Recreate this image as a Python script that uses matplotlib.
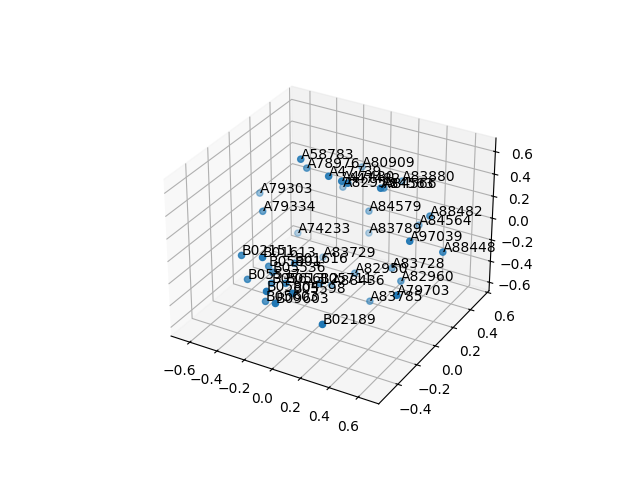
import matplotlib
matplotlib.use("Agg")
import matplotlib.pyplot as plt

labels = ["A58783", "A78976", "A47739", "A47480", "A82953", "A47482", "A80909",
          "A83880", "A84563", "A84566", "A79303", "A79334", "A84579", "A88482",
          "A84564", "A74233", "A83789", "A97039", "A88448", "B02151", "B01613",
          "A83729", "B05801", "B01616", "B05536", "B05537", "B05804", "B05598",
          "B05711", "A88436", "A82950", "B05603", "B09603", "B02189", "A83785",
          "A83728", "A82960", "A79703", "B05613", "B05612"]

xs = [-0.184, -0.255, 0.027, 0.105, -0.161, 0.141, -0.102, 0.205, 0.323, 0.203,
      -0.606, -0.428, 0.037, 0.508, 0.343, -0.418, -0.02, 0.576, 0.697, -0.361,
      -0.16, -0.221, -0.251, -0.119, -0.218, -0.337, -0.075, 0.064, 0.056, -0.004,
      0.096, -0.196, -0.006, 0.277, 0.238, 0.288, 0.412, 0.608, -0.161, -0.066]
ys = [-0.049, 0.107, -0.069, -0.05, 0.345, -0.041, 0.462, 0.437, 0.027, 0.243,
      0.108, -0.098, 0.335, 0.276, 0.421, 0.233, 0.422, -0.047, 0.124, -0.392,
      -0.456, 0.22, -0.282, -0.207, -0.288, -0.373, -0.536, -0.477, -0.201, 0.005,
      0.102, -0.39, -0.546, -0.485, 0.055, 0.214, 0.123, -0.224, -0.375, -0.367]
zs = [0.695, 0.483, 0.632, 0.602, 0.173, 0.59, 0.293, 0.287, 0.56, 0.363,
      0.137, 0.186, 0.029, 0.195, -0.055, -0.261, -0.261, 0.242, 0.057, 0.039,
      0.146, -0.405, -0.105, -0.087, -0.142, -0.183, -0.058, -0.07, -0.207, -0.415,
      -0.343, -0.315, -0.13, -0.256, -0.511, -0.313, -0.313, -0.083, -0.15, -0.12]

fig = plt.figure()
ax = fig.add_subplot(projection="3d")
ax.scatter(xs, ys, zs)
for name, x, y, z in zip(labels, xs, ys, zs):
    ax.text(x, y, z, name)

ax.set_xlim(-0.74, 0.74, view_margin=0)
ax.set_ylim(-0.595, 0.62, view_margin=0)
ax.set_zlim(-0.68, 0.72, view_margin=0)

fig.savefig("out.png")
